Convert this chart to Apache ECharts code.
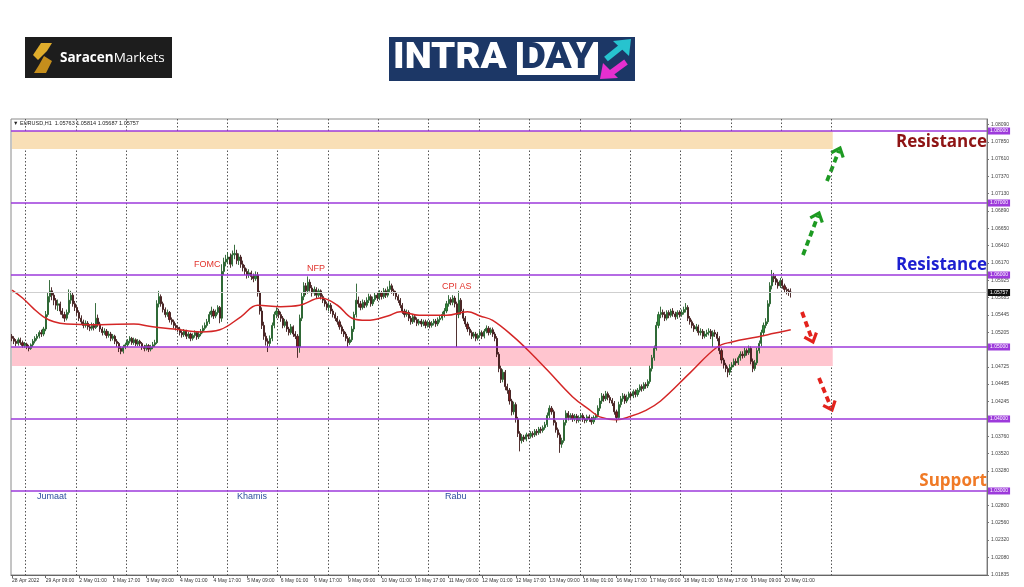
<!DOCTYPE html>
<html><head><meta charset="utf-8">
<script src="https://cdn.jsdelivr.net/npm/echarts@6/dist/echarts.min.js"></script>
<style>html,body{margin:0;padding:0;background:#fff}#c{width:1024px;height:587px}</style>
</head><body><div id="c"></div>
<script>
// ---- candles per trading day: [open, close, low, high] (hourly, EURUSD H1) ----
const apr28 = [
[1.0515,1.0512,1.0508,1.0518],[1.0512,1.0508,1.0504,1.0515],[1.0508,1.0505,1.0501,1.0511],[1.0505,1.0510,1.0502,1.0513],
[1.0510,1.0506,1.0503,1.0513],[1.0506,1.0502,1.0499,1.0509],[1.0502,1.0504,1.0499,1.0507]];
const apr29 = [
[1.0504,1.0500,1.0497,1.0506],[1.0500,1.0498,1.0494,1.0503],[1.0498,1.0503,1.0496,1.0505],[1.0503,1.0508,1.0500,1.0511],
[1.0508,1.0512,1.0505,1.0515],[1.0512,1.0515,1.0509,1.0518],[1.0515,1.0520,1.0512,1.0523],[1.0520,1.0518,1.0514,1.0524],
[1.0518,1.0525,1.0515,1.0528],[1.0525,1.0545,1.0522,1.0550],[1.0545,1.0570,1.0542,1.0575],[1.0570,1.0578,1.0562,1.0593],
[1.0578,1.0572,1.0565,1.0583],[1.0572,1.0565,1.0558,1.0576],[1.0565,1.0558,1.0552,1.0568],[1.0558,1.0560,1.0550,1.0566],
[1.0560,1.0550,1.0545,1.0563],[1.0550,1.0545,1.0540,1.0554],[1.0545,1.0540,1.0535,1.0549],[1.0540,1.0548,1.0537,1.0552],
[1.0548,1.0565,1.0545,1.0580],[1.0565,1.0572,1.0560,1.0578],[1.0572,1.0560,1.0556,1.0575],[1.0560,1.0555,1.0550,1.0564]];
const may02 = [
[1.0555,1.0548,1.0544,1.0558],[1.0548,1.0540,1.0536,1.0551],[1.0540,1.0535,1.0531,1.0544],[1.0535,1.0530,1.0526,1.0538],
[1.0530,1.0533,1.0527,1.0537],[1.0533,1.0528,1.0524,1.0536],[1.0528,1.0526,1.0522,1.0531],[1.0526,1.0530,1.0523,1.0534],
[1.0530,1.0527,1.0523,1.0533],[1.0527,1.0540,1.0525,1.0561],[1.0540,1.0532,1.0528,1.0545],[1.0532,1.0525,1.0521,1.0535],
[1.0525,1.0520,1.0516,1.0528],[1.0520,1.0522,1.0517,1.0526],[1.0522,1.0516,1.0512,1.0525],[1.0516,1.0518,1.0513,1.0522],
[1.0518,1.0512,1.0508,1.0521],[1.0512,1.0515,1.0509,1.0518],[1.0515,1.0508,1.0504,1.0517],[1.0508,1.0505,1.0500,1.0511],
[1.0505,1.0498,1.0493,1.0507],[1.0498,1.0494,1.0490,1.0501],[1.0494,1.0500,1.0491,1.0503],[1.0500,1.0503,1.0497,1.0506]];
const may03 = [
[1.0503,1.0508,1.0500,1.0511],[1.0508,1.0512,1.0505,1.0515],[1.0512,1.0506,1.0503,1.0514],[1.0506,1.0510,1.0503,1.0513],
[1.0510,1.0504,1.0501,1.0512],[1.0504,1.0508,1.0501,1.0511],[1.0508,1.0505,1.0501,1.0510],[1.0505,1.0500,1.0496,1.0507],
[1.0500,1.0498,1.0494,1.0503],[1.0498,1.0502,1.0495,1.0505],[1.0502,1.0497,1.0493,1.0504],[1.0497,1.0500,1.0494,1.0503],
[1.0500,1.0503,1.0497,1.0507],[1.0503,1.0506,1.0500,1.0510],[1.0506,1.0560,1.0504,1.0565],[1.0560,1.0570,1.0555,1.0578],
[1.0570,1.0560,1.0556,1.0573],[1.0560,1.0552,1.0548,1.0563],[1.0552,1.0545,1.0541,1.0555],[1.0545,1.0548,1.0542,1.0552],
[1.0548,1.0538,1.0534,1.0550],[1.0538,1.0535,1.0531,1.0541],[1.0535,1.0530,1.0526,1.0538],[1.0530,1.0527,1.0523,1.0533]];
const may04 = [
[1.0527,1.0525,1.0521,1.0530],[1.0525,1.0520,1.0516,1.0528],[1.0520,1.0517,1.0513,1.0523],[1.0517,1.0522,1.0514,1.0525],
[1.0522,1.0515,1.0511,1.0524],[1.0515,1.0518,1.0512,1.0521],[1.0518,1.0512,1.0508,1.0520],[1.0512,1.0516,1.0509,1.0519],
[1.0516,1.0520,1.0513,1.0523],[1.0520,1.0514,1.0510,1.0522],[1.0514,1.0518,1.0511,1.0521],[1.0518,1.0522,1.0515,1.0525],
[1.0522,1.0526,1.0519,1.0530],[1.0526,1.0530,1.0523,1.0534],[1.0530,1.0535,1.0527,1.0539],[1.0535,1.0545,1.0532,1.0549],
[1.0545,1.0550,1.0541,1.0556],[1.0550,1.0543,1.0539,1.0553],[1.0543,1.0548,1.0540,1.0552],[1.0548,1.0555,1.0545,1.0558],
[1.0555,1.0540,1.0533,1.0557],[1.0540,1.0605,1.0535,1.0615],[1.0605,1.0618,1.0600,1.0624],[1.0618,1.0622,1.0612,1.0628]];
const may05 = [
[1.0622,1.0625,1.0615,1.0632],[1.0625,1.0615,1.0610,1.0630],[1.0615,1.0628,1.0612,1.0634],[1.0628,1.0630,1.0622,1.0642],
[1.0630,1.0620,1.0615,1.0635],[1.0620,1.0625,1.0614,1.0630],[1.0625,1.0615,1.0610,1.0628],[1.0615,1.0610,1.0605,1.0620],
[1.0610,1.0605,1.0600,1.0614],[1.0605,1.0600,1.0595,1.0609],[1.0600,1.0603,1.0596,1.0608],[1.0603,1.0598,1.0593,1.0606],
[1.0598,1.0595,1.0590,1.0602],[1.0595,1.0600,1.0592,1.0605],[1.0600,1.0575,1.0570,1.0604],[1.0575,1.0550,1.0545,1.0578],
[1.0550,1.0530,1.0525,1.0555],[1.0530,1.0515,1.0510,1.0535],[1.0515,1.0508,1.0502,1.0520],[1.0508,1.0505,1.0493,1.0512],
[1.0505,1.0512,1.0500,1.0516],[1.0512,1.0530,1.0508,1.0534],[1.0530,1.0545,1.0526,1.0549],[1.0545,1.0550,1.0540,1.0555]];
const may06 = [
[1.0550,1.0545,1.0540,1.0553],[1.0545,1.0540,1.0535,1.0549],[1.0540,1.0530,1.0526,1.0543],[1.0530,1.0535,1.0527,1.0539],
[1.0535,1.0525,1.0521,1.0538],[1.0525,1.0520,1.0516,1.0528],[1.0520,1.0528,1.0517,1.0532],[1.0528,1.0518,1.0514,1.0530],
[1.0518,1.0515,1.0511,1.0522],[1.0515,1.0500,1.0485,1.0518],[1.0500,1.0540,1.0492,1.0545],[1.0540,1.0570,1.0536,1.0575],
[1.0570,1.0585,1.0565,1.0590],[1.0585,1.0578,1.0572,1.0589],[1.0578,1.0590,1.0574,1.0598],[1.0590,1.0582,1.0577,1.0594],
[1.0582,1.0575,1.0570,1.0586],[1.0575,1.0580,1.0571,1.0584],[1.0580,1.0572,1.0568,1.0583],[1.0572,1.0578,1.0569,1.0581],
[1.0578,1.0570,1.0566,1.0580],[1.0570,1.0565,1.0561,1.0573],[1.0565,1.0560,1.0556,1.0568],[1.0560,1.0555,1.0551,1.0563]];
const may09 = [
[1.0555,1.0558,1.0550,1.0562],[1.0558,1.0550,1.0546,1.0561],[1.0550,1.0545,1.0541,1.0553],[1.0545,1.0540,1.0536,1.0548],
[1.0540,1.0535,1.0531,1.0543],[1.0535,1.0528,1.0524,1.0538],[1.0528,1.0522,1.0518,1.0531],[1.0522,1.0518,1.0514,1.0525],
[1.0518,1.0512,1.0508,1.0521],[1.0512,1.0506,1.0500,1.0515],[1.0506,1.0510,1.0503,1.0514],[1.0510,1.0525,1.0507,1.0529],
[1.0525,1.0545,1.0521,1.0549],[1.0545,1.0565,1.0541,1.0588],[1.0565,1.0560,1.0555,1.0570],[1.0560,1.0555,1.0551,1.0564],
[1.0555,1.0562,1.0552,1.0566],[1.0562,1.0558,1.0554,1.0565],[1.0558,1.0565,1.0555,1.0569],[1.0565,1.0570,1.0561,1.0574],
[1.0570,1.0560,1.0556,1.0573],[1.0560,1.0566,1.0557,1.0570],[1.0566,1.0572,1.0563,1.0576],[1.0572,1.0568,1.0564,1.0575]];
const may10 = [
[1.0568,1.0575,1.0565,1.0579],[1.0575,1.0570,1.0566,1.0578],[1.0570,1.0578,1.0567,1.0582],[1.0578,1.0572,1.0568,1.0581],
[1.0572,1.0580,1.0569,1.0584],[1.0580,1.0585,1.0576,1.0592],[1.0585,1.0578,1.0574,1.0588],[1.0578,1.0575,1.0571,1.0581],
[1.0575,1.0570,1.0566,1.0578],[1.0570,1.0565,1.0561,1.0573],[1.0565,1.0558,1.0554,1.0568],[1.0558,1.0550,1.0546,1.0561],
[1.0550,1.0545,1.0541,1.0553],[1.0545,1.0548,1.0542,1.0552],[1.0548,1.0540,1.0536,1.0551],[1.0540,1.0535,1.0531,1.0543],
[1.0535,1.0542,1.0532,1.0546],[1.0542,1.0538,1.0534,1.0545],[1.0538,1.0533,1.0529,1.0541],[1.0533,1.0536,1.0530,1.0539],
[1.0536,1.0532,1.0528,1.0539],[1.0532,1.0535,1.0529,1.0538],[1.0535,1.0530,1.0526,1.0538],[1.0530,1.0534,1.0527,1.0537]];
const may11 = [
[1.0534,1.0530,1.0526,1.0537],[1.0530,1.0533,1.0527,1.0536],[1.0533,1.0536,1.0530,1.0539],[1.0536,1.0532,1.0528,1.0539],
[1.0532,1.0538,1.0529,1.0541],[1.0538,1.0540,1.0534,1.0544],[1.0540,1.0545,1.0537,1.0549],[1.0545,1.0550,1.0541,1.0554],
[1.0550,1.0560,1.0547,1.0564],[1.0560,1.0566,1.0556,1.0572],[1.0566,1.0562,1.0558,1.0569],[1.0562,1.0568,1.0558,1.0572],
[1.0568,1.0560,1.0555,1.0571],[1.0560,1.0545,1.0500,1.0563],[1.0545,1.0565,1.0540,1.0578],[1.0565,1.0550,1.0545,1.0568],
[1.0550,1.0540,1.0536,1.0553],[1.0540,1.0532,1.0528,1.0543],[1.0532,1.0525,1.0521,1.0535],[1.0525,1.0520,1.0516,1.0528],
[1.0520,1.0515,1.0511,1.0523],[1.0515,1.0518,1.0512,1.0521],[1.0518,1.0512,1.0508,1.0521],[1.0512,1.0516,1.0509,1.0519]];
const may12 = [
[1.0516,1.0520,1.0513,1.0523],[1.0520,1.0515,1.0511,1.0523],[1.0515,1.0522,1.0512,1.0525],[1.0522,1.0526,1.0519,1.0530],
[1.0526,1.0520,1.0516,1.0529],[1.0520,1.0524,1.0517,1.0527],[1.0524,1.0518,1.0514,1.0527],[1.0518,1.0512,1.0508,1.0521],
[1.0512,1.0490,1.0486,1.0515],[1.0490,1.0470,1.0465,1.0493],[1.0470,1.0455,1.0450,1.0474],[1.0455,1.0465,1.0451,1.0469],
[1.0465,1.0445,1.0440,1.0468],[1.0445,1.0440,1.0435,1.0449],[1.0440,1.0425,1.0420,1.0443],[1.0425,1.0410,1.0405,1.0428],
[1.0410,1.0420,1.0406,1.0424],[1.0420,1.0400,1.0395,1.0423],[1.0400,1.0380,1.0375,1.0403],[1.0380,1.0370,1.0355,1.0383],
[1.0370,1.0375,1.0366,1.0379],[1.0375,1.0372,1.0368,1.0378],[1.0372,1.0378,1.0369,1.0381],[1.0378,1.0376,1.0372,1.0380]];
const may13 = [
[1.0376,1.0380,1.0373,1.0383],[1.0380,1.0378,1.0374,1.0383],[1.0378,1.0383,1.0375,1.0386],[1.0383,1.0381,1.0377,1.0386],
[1.0381,1.0386,1.0378,1.0389],[1.0386,1.0384,1.0380,1.0389],[1.0384,1.0388,1.0381,1.0391],[1.0388,1.0392,1.0385,1.0396],
[1.0392,1.0405,1.0389,1.0409],[1.0405,1.0415,1.0401,1.0419],[1.0415,1.0410,1.0406,1.0418],[1.0410,1.0395,1.0391,1.0413],
[1.0395,1.0385,1.0381,1.0398],[1.0385,1.0378,1.0374,1.0388],[1.0378,1.0365,1.0353,1.0381],[1.0365,1.0370,1.0360,1.0374],
[1.0370,1.0395,1.0367,1.0399],[1.0395,1.0408,1.0391,1.0412],[1.0408,1.0402,1.0398,1.0411],[1.0402,1.0405,1.0399,1.0408],
[1.0405,1.0400,1.0396,1.0408],[1.0400,1.0404,1.0397,1.0407],[1.0404,1.0398,1.0394,1.0407],[1.0398,1.0402,1.0395,1.0405]];
const may16 = [
[1.0402,1.0405,1.0399,1.0408],[1.0405,1.0400,1.0396,1.0408],[1.0400,1.0398,1.0394,1.0403],[1.0398,1.0403,1.0395,1.0406],
[1.0403,1.0400,1.0396,1.0406],[1.0400,1.0396,1.0392,1.0403],[1.0396,1.0402,1.0393,1.0405],[1.0402,1.0405,1.0399,1.0408],
[1.0405,1.0415,1.0402,1.0419],[1.0415,1.0425,1.0411,1.0429],[1.0425,1.0432,1.0421,1.0436],[1.0432,1.0428,1.0424,1.0435],
[1.0428,1.0435,1.0425,1.0439],[1.0435,1.0430,1.0426,1.0438],[1.0430,1.0426,1.0422,1.0433],[1.0426,1.0422,1.0418,1.0429],
[1.0422,1.0410,1.0406,1.0425],[1.0410,1.0402,1.0395,1.0413],[1.0402,1.0420,1.0399,1.0424],[1.0420,1.0428,1.0416,1.0432],
[1.0428,1.0432,1.0424,1.0436],[1.0432,1.0425,1.0421,1.0435],[1.0425,1.0430,1.0422,1.0434],[1.0430,1.0435,1.0427,1.0438]];
const may17 = [
[1.0435,1.0432,1.0428,1.0438],[1.0432,1.0438,1.0429,1.0441],[1.0438,1.0434,1.0430,1.0441],[1.0434,1.0440,1.0431,1.0443],
[1.0440,1.0445,1.0437,1.0448],[1.0445,1.0442,1.0438,1.0448],[1.0442,1.0448,1.0439,1.0451],[1.0448,1.0446,1.0442,1.0451],
[1.0446,1.0452,1.0443,1.0455],[1.0452,1.0470,1.0449,1.0474],[1.0470,1.0485,1.0466,1.0489],[1.0485,1.0498,1.0481,1.0502],
[1.0498,1.0530,1.0495,1.0535],[1.0530,1.0545,1.0526,1.0549],[1.0545,1.0548,1.0540,1.0556],[1.0548,1.0545,1.0541,1.0552],
[1.0545,1.0540,1.0536,1.0549],[1.0540,1.0548,1.0537,1.0551],[1.0548,1.0544,1.0540,1.0551],[1.0544,1.0550,1.0541,1.0553],
[1.0550,1.0546,1.0542,1.0554],[1.0546,1.0542,1.0538,1.0549],[1.0542,1.0548,1.0539,1.0551],[1.0548,1.0545,1.0541,1.0551]];
const may18 = [
[1.0545,1.0548,1.0542,1.0552],[1.0548,1.0552,1.0545,1.0556],[1.0552,1.0555,1.0548,1.0561],[1.0555,1.0540,1.0536,1.0558],
[1.0540,1.0535,1.0531,1.0543],[1.0535,1.0530,1.0526,1.0538],[1.0530,1.0525,1.0521,1.0533],[1.0525,1.0528,1.0522,1.0532],
[1.0528,1.0520,1.0516,1.0531],[1.0520,1.0522,1.0516,1.0526],[1.0522,1.0515,1.0511,1.0525],[1.0515,1.0518,1.0512,1.0522],
[1.0518,1.0520,1.0514,1.0524],[1.0520,1.0522,1.0516,1.0526],[1.0522,1.0515,1.0511,1.0525],[1.0515,1.0520,1.0500,1.0523],
[1.0520,1.0518,1.0514,1.0524],[1.0518,1.0512,1.0508,1.0521],[1.0512,1.0495,1.0490,1.0515],[1.0495,1.0482,1.0477,1.0498],
[1.0482,1.0475,1.0470,1.0485],[1.0475,1.0470,1.0465,1.0478],[1.0470,1.0465,1.0458,1.0473],[1.0465,1.0472,1.0461,1.0476]];
const may19 = [
[1.0472,1.0475,1.0468,1.0479],[1.0475,1.0480,1.0472,1.0484],[1.0480,1.0478,1.0474,1.0484],[1.0478,1.0485,1.0475,1.0488],
[1.0485,1.0490,1.0481,1.0494],[1.0490,1.0488,1.0484,1.0494],[1.0488,1.0495,1.0485,1.0499],[1.0495,1.0492,1.0488,1.0498],
[1.0492,1.0498,1.0489,1.0502],[1.0498,1.0480,1.0476,1.0501],[1.0480,1.0470,1.0465,1.0484],[1.0470,1.0478,1.0467,1.0482],
[1.0478,1.0495,1.0475,1.0499],[1.0495,1.0505,1.0491,1.0509],[1.0505,1.0520,1.0501,1.0524],[1.0520,1.0530,1.0516,1.0534],
[1.0530,1.0535,1.0526,1.0540],[1.0535,1.0560,1.0532,1.0565],[1.0560,1.0585,1.0556,1.0590],[1.0585,1.0598,1.0580,1.0607],
[1.0598,1.0595,1.0590,1.0603],[1.0595,1.0590,1.0586,1.0599],[1.0590,1.0585,1.0581,1.0594],[1.0585,1.0592,1.0582,1.0596]];
const may20 = [
[1.0592,1.0585,1.0581,1.0595],[1.0585,1.0580,1.0576,1.0588],[1.0580,1.0578,1.0573,1.0583],[1.0578,1.0576,1.0571,1.0581],
[1.05763,1.05757,1.05687,1.05814]];

// ---- moving average (bar index -> value) ----
const maIdx = [0,5,10,15,20,26,42,58,67,77,90,99,109,117,128,137,147,155,162,169,179,185,194,207,217,223,229,239,247,255,267,275,280,288,294,302,309,323,336,343,355,363,371];
const maVal = [1.0579,1.0568,1.0554,1.0542,1.0535,1.0532,1.0531,1.0532,1.0528,1.0525,1.0521,1.0524,1.0542,1.0558,1.0556,1.0558,1.0568,1.0558,1.0540,1.0537,1.0543,1.0549,1.0544,1.0544,1.0549,1.0543,1.0537,1.0514,1.0492,1.0468,1.0431,1.0413,1.0403,1.0399,1.0403,1.0412,1.0425,1.0464,1.0500,1.0507,1.0514,1.0519,1.0524];

// ---- axis / labels ----
const dayNames = ['28 Apr','29 Apr','2 May','3 May','4 May','5 May','6 May','9 May','10 May','11 May','12 May','13 May','16 May','17 May','18 May','19 May','20 May','23 May','24 May','25 May','26 May'];
const firstLabel = '28 Apr 2022';
const yTickLabels = [1.08090,1.07850,1.07610,1.07370,1.07130,1.06890,1.06650,1.06410,1.06170,1.05925,1.05685,1.05445,1.05205,1.04725,1.04485,1.04245,1.03760,1.03520,1.03280,1.02800,1.02560,1.02320,1.02080,1.01835];
const levels = [1.08,1.07,1.06,1.05,1.04,1.03];
const lastPrice = 1.05757;
const peakZone = [1.0775,1.08];
const demandZone = [1.04736,1.05];
const zoneEndBar = 391;
const lastLabelBar = 368;
const headerText = '\u25BC EURUSD,H1  1.05763 1.05814 1.05687 1.05757';

const candles = [].concat(apr28,apr29,may02,may03,may04,may05,may06,may09,may10,may11,may12,may13,may16,may17,may18,may19,may20);
const TOTAL = 465;
const categories = [];
for (let d = 0; d < dayNames.length && categories.length < TOTAL; d++) {
  for (let h = (d === 0 ? 17 : 0); h < 24 && categories.length < TOTAL; h++) {
    categories.push(dayNames[d] + ' ' + String(h).padStart(2,'0') + ':00');
  }
}
categories[0] = firstLabel;
const maData = new Array(candles.length).fill(null);
maIdx.forEach((k,j) => { maData[k] = maVal[j]; });

const chart = echarts.init(document.getElementById('c'), null, {renderer:'canvas'});

function arrow(x1,y1,x2,y2,color){
  const dx=x2-x1, dy=y2-y1, L=Math.hypot(dx,dy), ux=dx/L, uy=dy/L, hl=10, a=0.7;
  const c=Math.cos(a), s=Math.sin(a);
  const p1=[x2-hl*(ux*c-uy*s), y2-hl*(uy*c+ux*s)];
  const p2=[x2-hl*(ux*c+uy*s), y2-hl*(uy*c-ux*s)];
  return [
    {type:'line', silent:true, shape:{x1:x1,y1:y1,x2:x2-ux*3,y2:y2-uy*3}, style:{stroke:color,lineWidth:3.8,lineDash:[6,4]}},
    {type:'polyline', silent:true, shape:{points:[p1,[x2,y2],p2]}, style:{stroke:color,lineWidth:3.2,fill:null}}
  ];
}

const sans = 'Liberation Sans, Arial, sans-serif';
const graphics = [
  // Saracen Markets logo
  {type:'rect', shape:{x:25,y:37,width:147,height:41}, style:{fill:'#1d1d1d'}},
  {type:'polygon', shape:{points:[[41,43],[52,43],[47,51],[38,60],[33,55]]}, style:{fill:'#e0ad2c'}},
  {type:'polygon', shape:{points:[[44,56],[52,61],[46,73],[34,73],[39,65]]}, style:{fill:'#c58e1c'}},
  {type:'text', style:{x:60,y:58,text:'{b|Saracen}{r|Markets}',verticalAlign:'middle',
    rich:{b:{fontFamily:'Open Sans, sans-serif',fontWeight:'bold',fontSize:13.5,fill:'#ffffff'},
          r:{fontFamily:'Open Sans, sans-serif',fontSize:13.5,fill:'#ffffff'}}}},
  // INTRADAY logo
  {type:'rect', shape:{x:389,y:37,width:246,height:44}, style:{fill:'#1c3766'}},
  {type:'text', x:393, y:59, scaleX:1.04, style:{x:0,y:0,text:'INTRA',verticalAlign:'middle',fontFamily:'Roboto, Liberation Sans, sans-serif',fontWeight:900,fontSize:37,fill:'#ffffff'}},
  {type:'rect', shape:{x:517,y:42,width:81,height:33}, style:{fill:'#ffffff'}},
  {type:'text', x:557, y:59, scaleX:1.05, style:{x:0,y:0,text:'DAY',align:'center',verticalAlign:'middle',fontFamily:'Roboto, Liberation Sans, sans-serif',fontWeight:900,fontSize:37,fill:'#1c3766'}},
  {type:'line', shape:{x1:606,y1:59,x2:621,y2:47}, style:{stroke:'#27c3cf',lineWidth:6}},
  {type:'polygon', shape:{points:[[631,39],[613,41],[629,56]]}, style:{fill:'#27c3cf'}},
  {type:'line', shape:{x1:626,y1:62,x2:611,y2:73}, style:{stroke:'#e62fcf',lineWidth:6}},
  {type:'polygon', shape:{points:[[600,79],[618,78],[603,63]]}, style:{fill:'#e62fcf'}},
  // chart header
  {type:'text', style:{x:13,y:123,text:headerText,verticalAlign:'middle',fontFamily:sans,fontSize:5.5,fill:'#222'}},
  // event labels
  {type:'text', style:{x:194,y:265,text:'FOMC',verticalAlign:'middle',fontFamily:sans,fontSize:9,fill:'#e2332c'}},
  {type:'text', style:{x:307,y:269,text:'NFP',verticalAlign:'middle',fontFamily:sans,fontSize:9,fill:'#e2332c'}},
  {type:'text', style:{x:442,y:287,text:'CPI AS',verticalAlign:'middle',fontFamily:sans,fontSize:9,fill:'#e2332c'}},
  {type:'text', style:{x:37,y:497,text:'Jumaat',verticalAlign:'middle',fontFamily:sans,fontSize:9,fill:'#2d4d9e'}},
  {type:'text', style:{x:237,y:497,text:'Khamis',verticalAlign:'middle',fontFamily:sans,fontSize:9,fill:'#2d4d9e'}},
  {type:'text', style:{x:445,y:497,text:'Rabu',verticalAlign:'middle',fontFamily:sans,fontSize:9,fill:'#2d4d9e'}},
  // level titles
  {type:'text', style:{x:987,y:142,text:'Resistance',align:'right',verticalAlign:'middle',fontFamily:'Open Sans, sans-serif',fontWeight:'bold',fontSize:17,fill:'#8e1414'}},
  {type:'text', style:{x:987,y:265,text:'Resistance',align:'right',verticalAlign:'middle',fontFamily:'Open Sans, sans-serif',fontWeight:'bold',fontSize:17,fill:'#1c1fd0'}},
  {type:'text', style:{x:987,y:481,text:'Support',align:'right',verticalAlign:'middle',fontFamily:'Open Sans, sans-serif',fontWeight:'bold',fontSize:17,fill:'#f07a26'}}
].concat(
  arrow(803,255,819,213,'#1d9a22'),
  arrow(827,181,840,148,'#1d9a22'),
  arrow(802,312,813,342,'#e3221c'),
  arrow(819,378,832,410,'#e3221c')
);

const showLabel = (i) => i % 16 === 0 && i <= lastLabelBar;
const option = {
  animation:false,
  backgroundColor:'#ffffff',
  grid:{left:11,right:37,top:119,bottom:12,show:true,borderColor:'#8a8a8a',borderWidth:1,backgroundColor:'transparent'},
  xAxis:{
    type:'category', data:categories, boundaryGap:true,
    axisLine:{show:true,lineStyle:{color:'#666',width:1}},
    axisTick:{show:true,alignWithLabel:true,length:3,interval:showLabel,lineStyle:{color:'#666'}},
    axisLabel:{show:true,interval:showLabel,hideOverlap:false,fontSize:5,color:'#333',fontFamily:sans,align:'left',margin:3},
    splitLine:{show:true,interval:(i)=> i>=7 && (i-7)%24===0 && i<=zoneEndBar,lineStyle:{color:'#555',width:1,type:[1.5,2]}}
  },
  yAxis:{
    type:'value', position:'right', min:1.01833, max:1.08167, scale:true,
    axisLine:{show:true,lineStyle:{color:'#777',width:1}},
    axisTick:{show:true,length:2,customValues:yTickLabels,lineStyle:{color:'#777'}},
    axisLabel:{show:true,customValues:yTickLabels,formatter:(v)=>v.toFixed(5),fontSize:5,color:'#444',fontFamily:sans,margin:4},
    splitLine:{show:false}
  },
  series:[
    {
      type:'candlestick', name:'EURUSD', data:candles, barWidth:1.6,
      itemStyle:{color:'#2f8f3a',color0:'#7e1d1d',borderColor:'#245f2a',borderColor0:'#3d1b1b',borderWidth:0.9},
      markArea:{silent:true, data:[
        [{xAxis:categories[0],yAxis:peakZone[1],itemStyle:{color:'#f9dfb6'}},{xAxis:categories[zoneEndBar],yAxis:peakZone[0]}],
        [{xAxis:categories[0],yAxis:demandZone[1],itemStyle:{color:'#ffc5cf'}},{xAxis:categories[zoneEndBar],yAxis:demandZone[0]}]
      ]},
      markLine:{silent:true,symbol:'none',animation:false,precision:5,
        lineStyle:{color:'#9d3adb',width:1.6,type:'solid'},
        label:{show:true,position:'end',distance:1,formatter:(p)=>Number(p.value).toFixed(5),backgroundColor:'#9d3adb',color:'#fff',fontSize:5,fontFamily:sans,padding:[1,2]},
        data: levels.map(v=>({yAxis:v})).concat([{yAxis:lastPrice,lineStyle:{color:'#cfcfcf',width:1},label:{backgroundColor:'#111',color:'#fff'}}])
      }
    },
    {
      type:'line', name:'MA', data:maData, connectNulls:true, smooth:0.4, showSymbol:false, symbol:'none',
      lineStyle:{color:'#d42626',width:1.5}, z:3
    }
  ],
  graphic: graphics
};
chart.setOption(option);
</script>
</body></html>
